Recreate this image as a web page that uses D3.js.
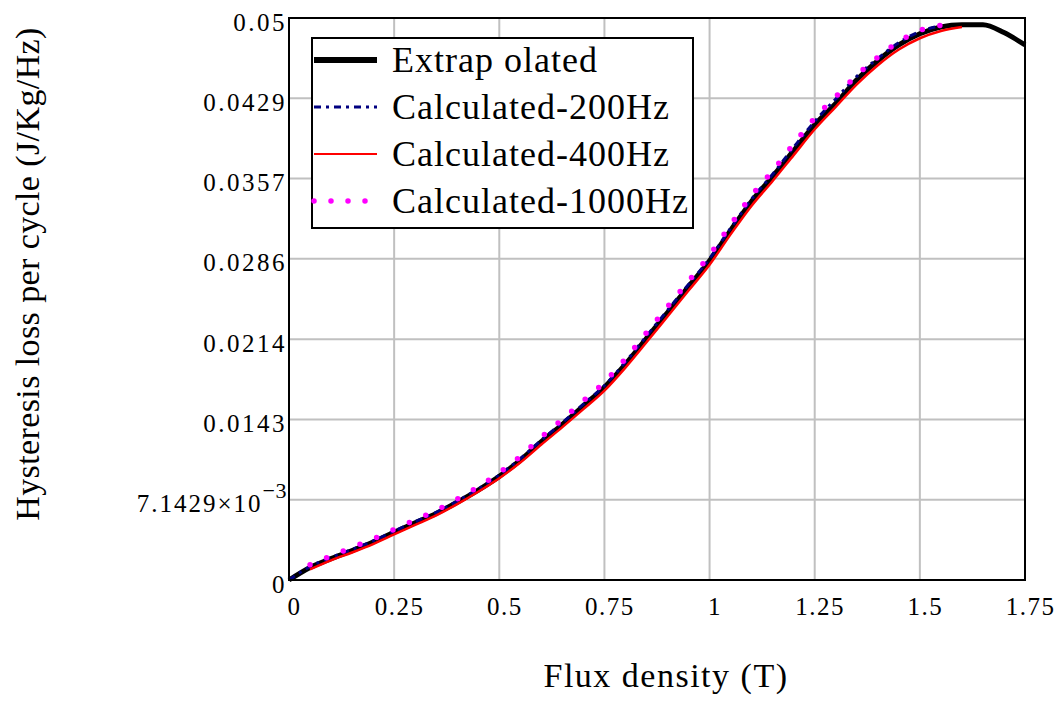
<!DOCTYPE html>
<html>
<head>
<meta charset="utf-8">
<script src="https://cdn.jsdelivr.net/npm/d3@7"></script>
<style>
  html, body { margin: 0; padding: 0; background: #fff; }
  svg { display: block; }
</style>
</head>
<body>
<svg id="chart" width="1063" height="702"></svg>
<script>
// ---- data ----
const fluxExtrap = [0,0.05,0.1,0.15,0.2,0.25,0.3,0.35,0.4,0.45,0.5,0.55,0.6,0.65,0.7,0.75,0.8,0.85,0.9,0.95,1.0,1.05,1.1,1.15,1.2,1.25,1.3,1.35,1.4,1.45,1.5,1.55,1.6,1.65,1.7,1.75];
const lossExtrap = [0,1.12,1.9,2.62,3.38,4.25,5.1,5.92,6.92,8.0,9.22,10.65,12.3,13.85,15.5,17.15,19.2,21.5,23.8,26.1,28.4,31.1,33.7,35.9,38.2,40.5,42.4,44.5,46.2,47.6,48.6,49.2,49.4,49.4,48.7,47.6];

const flux200 = [0,0.05,0.1,0.15,0.2,0.25,0.3,0.35,0.4,0.45,0.5,0.55,0.6,0.65,0.7,0.75,0.8,0.85,0.9,0.95,1.0,1.05,1.1,1.15,1.2,1.25,1.3,1.35,1.4,1.45,1.5,1.55];
const loss200 = [0,1.2,2.0,2.72,3.48,4.35,5.2,6.02,7.02,8.1,9.35,10.8,12.45,14.0,15.65,17.3,19.4,21.7,24.0,26.3,28.6,31.3,33.9,36.1,38.5,40.8,42.8,44.8,46.4,47.8,48.8,49.3];

const flux400 = [0.05,0.1,0.15,0.2,0.25,0.3,0.35,0.4,0.45,0.5,0.55,0.6,0.65,0.7,0.75,0.8,0.85,0.9,0.95,1.0,1.05,1.1,1.15,1.2,1.25,1.3,1.35,1.4,1.45,1.5,1.55,1.6];
const loss400 = [0.95,1.75,2.45,3.2,4.05,4.9,5.75,6.75,7.85,9.05,10.45,12.05,13.6,15.2,16.85,18.9,21.15,23.45,25.75,28.05,30.75,33.3,35.5,37.8,40.1,42.1,44.1,45.8,47.2,48.2,48.85,49.2];

const flux1000 = [0.05,0.1,0.15,0.2,0.25,0.3,0.35,0.4,0.45,0.5,0.55,0.6,0.65,0.7,0.75,0.8,0.85,0.9,0.95,1.0,1.05,1.1,1.15,1.2,1.25,1.3,1.35,1.4,1.45,1.5,1.55];
const loss1000 = [1.35,2.15,2.9,3.65,4.5,5.35,6.2,7.2,8.3,9.55,11.0,12.7,14.3,15.95,17.6,19.7,22.0,24.3,26.6,28.9,31.6,34.2,36.4,38.8,41.1,43.0,44.9,46.5,47.9,48.9,49.35];

const xTicks = [0,0.25,0.5,0.75,1,1.25,1.5,1.75];
const xTickLabels = ["0","0.25","0.5","0.75","1","1.25","1.5","1.75"];
const yTicks = [0,1,2,3,4,5,6,7].map(i => i*0.05/7);
const yTickLabels = ["0","7.1429×10^−3","0.0143","0.0214","0.0286","0.0357","0.0429","0.05"];

const seriesNames = ["Extrapolated","Calculated-200Hz","Calculated-400Hz","Calculated-1000Hz"];
const legendText = ["Extrap olated","Calculated-200Hz","Calculated-400Hz","Calculated-1000Hz"];

// ---- layout ----
const FONT = "'Liberation Serif'";
const svg = d3.select("#chart");
const L = 289, R = 1025, T = 18, B = 580;
const x = d3.scaleLinear().domain([0,1.75]).range([L,R]);
const y = d3.scaleLinear().domain([0,0.05]).range([B,T]);

// grid
const grid = svg.append("g");
grid.selectAll("line.gx").data(xTicks).join("line")
  .attr("x1", d => x(d)).attr("x2", d => x(d)).attr("y1", T).attr("y2", B)
  .attr("stroke", "#c0c0c0").attr("stroke-width", 2);
grid.selectAll("line.gy").data(yTicks).join("line")
  .attr("y1", d => y(d)).attr("y2", d => y(d)).attr("x1", L).attr("x2", R)
  .attr("stroke", "#c0c0c0").attr("stroke-width", 2);

// series
const mk = (fx, fy) => fx.map((b,i) => [b, fy[i]*1e-3]);
const line = d3.line().x(d => x(d[0])).y(d => y(d[1])).curve(d3.curveMonotoneX);
const styles = [
  {data: mk(fluxExtrap, lossExtrap), color: "#000", width: 5, dash: null, cap: "butt"},
  {data: mk(flux200, loss200), color: "#000080", width: 3, dash: "7,5,3,5", cap: "butt"},
  {data: mk(flux400, loss400), color: "#ff0000", width: 2.5, dash: null, cap: "butt"},
  {data: mk(flux1000, loss1000), color: "#ff00ff", width: 5.5, dash: "0,18", cap: "round"}
];
const plot = svg.append("g");
styles.forEach(s => {
  plot.append("path").datum(s.data).attr("d", line)
    .attr("fill", "none").attr("stroke", s.color).attr("stroke-width", s.width)
    .attr("stroke-linecap", s.cap).attr("stroke-linejoin", "round")
    .attr("stroke-dasharray", s.dash);
});

// frame
svg.append("rect").attr("x", L).attr("y", T).attr("width", R-L).attr("height", B-T)
  .attr("fill", "none").attr("stroke", "#000").attr("stroke-width", 2);

// tick labels via d3 axes (lines hidden, text styled)
const xAxis = d3.axisBottom(x).tickValues(xTicks).tickSize(0).tickPadding(0)
  .tickFormat((d,i) => xTickLabels[i]);
const gx = svg.append("g").attr("transform", `translate(0,${B})`).call(xAxis)
  .attr("font-family", null).attr("font-size", null);
gx.select(".domain").remove();
gx.selectAll("text").style("font-family", FONT).style("font-size", "25px")
  .attr("dy", null).attr("y", 35).attr("dx", 5).attr("fill", "#000")
  .style("letter-spacing", "1.5px");

const yAxis = d3.axisLeft(y).tickValues(yTicks).tickSize(0).tickPadding(0)
  .tickFormat((d,i) => yTickLabels[i]);
const gy = svg.append("g").attr("transform", `translate(${L},0)`).call(yAxis)
  .attr("font-family", null).attr("font-size", null);
gy.select(".domain").remove();
gy.selectAll("text").each(function(d,i){
  const t = d3.select(this);
  t.style("font-family", FONT).style("font-size", "25px").attr("fill", "#000")
   .attr("x", -2).attr("dy", null).attr("y", 12).attr("text-anchor", "end")
   .style("letter-spacing", "2.5px");
  const lab = yTickLabels[i];
  if (lab.includes("^")) {
    const [base, sup] = lab.split("^");
    t.text(null);
    t.append("tspan").text(base).style("letter-spacing", "2px");
    t.append("tspan").text(sup).attr("dy", -14).style("font-size", "22px")
      .style("letter-spacing", "0.5px");
  }
});

// axis titles
svg.append("text").attr("x", 666).attr("y", 687).attr("text-anchor", "middle")
  .style("font-family", FONT).style("font-size", "34px").style("letter-spacing", "1.5px")
  .text("Flux density (T)");
svg.append("text").attr("transform", "translate(39,274) rotate(-90)").attr("text-anchor", "middle")
  .style("font-family", FONT).style("font-size", "34px").style("letter-spacing", "0.4px")
  .text("Hysteresis loss per cycle (J/Kg/Hz)");

// legend
const lg = svg.append("g");
lg.append("rect").attr("x", 312).attr("y", 38).attr("width", 381).attr("height", 190)
  .attr("fill", "#fff").attr("stroke", "#000").attr("stroke-width", 2);
seriesNames.forEach((name, i) => {
  const s = styles[i];
  const base = 72 + i*47;
  const ly = base - 12;
  lg.append("line").attr("x1", 314).attr("x2", 377).attr("y1", ly).attr("y2", ly)
    .attr("stroke", s.color).attr("stroke-width", i === 0 ? 6 : (i === 2 ? 2 : s.width))
    .attr("stroke-linecap", s.cap).attr("stroke-dasharray", i === 3 ? "0,17" : s.dash);
  lg.append("text").attr("x", 392).attr("y", base)
    .style("font-family", FONT).style("font-size", "36px").style("letter-spacing", "1px")
    .text(legendText[i]);
});

svg.selectAll("text").each(function(){ this.getComputedTextLength(); });
</script>
</body>
</html>
